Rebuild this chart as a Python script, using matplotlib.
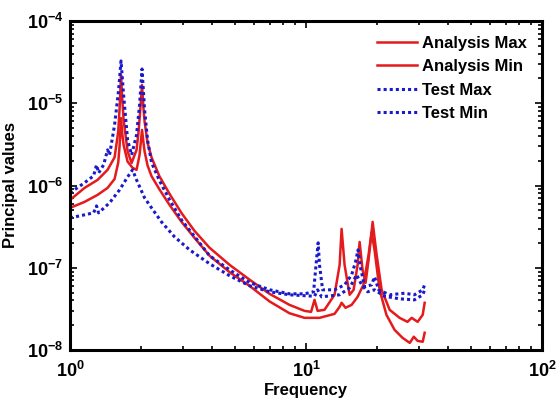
import matplotlib
matplotlib.use("Agg")
import matplotlib.pyplot as plt
from matplotlib.ticker import LogLocator, NullFormatter, FixedLocator, FixedFormatter

plt.rcParams['font.family'] = ['Liberation Sans', 'DejaVu Sans']
plt.rcParams['font.weight'] = 'bold'
plt.rcParams['mathtext.fontset'] = 'custom'
plt.rcParams['mathtext.rm'] = 'Liberation Sans:bold'
plt.rcParams['mathtext.bf'] = 'Liberation Sans:bold'
plt.rcParams['mathtext.default'] = 'bf'

# ---- data ----
freq_amax = [1.0, 1.152, 1.308, 1.442, 1.544, 1.60, 1.621, 1.644, 1.665, 1.686, 1.753, 1.823,
             1.913, 1.950, 1.985, 2.018, 2.045, 2.069, 2.13, 2.214, 2.39, 2.64, 2.97, 3.37, 3.90,
             4.75, 5.77, 7.0, 8.5, 9.85, 10.5, 10.86, 11.19, 11.97, 13.2, 13.87, 14.14, 14.56,
             15.29, 15.9, 16.53, 16.86, 17.35, 17.87, 18.4, 19.14, 19.9, 20.9, 22.6, 24.9, 26.9,
             28.0, 29.7, 31.2, 31.8]
val_amax = [6.68e-7, 9.35e-7, 1.17e-6, 1.55e-6, 2.2e-6, 4.5e-6, 8.5e-6, 2.2e-5, 1.1e-5, 6.3e-6,
            2.6e-6, 1.88e-6, 2.71e-6, 4.4e-6, 8.5e-6, 1.67e-5, 9.0e-6, 6.0e-6, 3.3e-6, 2.2e-6,
            1.3e-6, 7.9e-7, 4.6e-7, 2.8e-7, 1.75e-7, 1.08e-7, 7.14e-8, 4.82e-8, 3.54e-8, 2.99e-8,
            2.91e-8, 4.07e-8, 2.99e-8, 3.08e-8, 4.69e-8, 1.08e-7, 2.97e-7, 1.08e-7, 4.69e-8,
            5.39e-8, 1.08e-7, 2.06e-7, 9.43e-8, 6.56e-8, 1.25e-7, 3.61e-7, 1.44e-7, 5.39e-8,
            3.08e-8, 2.46e-8, 2.2e-8, 2.46e-8, 2.2e-8, 2.68e-8, 3.75e-8]

freq_amin = [1.0, 1.152, 1.308, 1.442, 1.544, 1.60, 1.621, 1.644, 1.665, 1.686, 1.753, 1.840,
             1.913, 1.970, 2.018, 2.045, 2.069, 2.13, 2.214, 2.39, 2.64, 2.97, 3.37, 3.90, 4.75,
             5.77, 7.0, 8.5, 9.85, 11.4, 13.2, 13.87, 14.14, 14.7, 15.6, 16.53, 17.5, 18.4,
             18.95, 19.5, 20.48, 21.9, 23.7, 25.6, 27.5, 28.6, 29.7, 31.2, 31.8]
val_amin = [5.35e-7, 6.32e-7, 7.69e-7, 9.35e-7, 1.2e-6, 1.9e-6, 3.0e-6, 6.6e-6, 4.2e-6, 3.11e-6,
            1.95e-6, 1.64e-6, 1.55e-6, 2.35e-6, 4.74e-6, 3.4e-6, 2.6e-6, 1.75e-6, 1.3e-6,
            9.0e-7, 5.8e-7, 3.6e-7, 2.3e-7, 1.4e-7, 8.8e-8, 6.0e-8, 3.9e-8, 2.8e-8, 2.46e-8,
            2.46e-8, 2.75e-8, 3.35e-8, 3.75e-8, 3.26e-8, 3.54e-8, 4.43e-8, 6.2e-8, 1.44e-7,
            2.7e-7, 1.65e-7, 5.39e-8, 2.68e-8, 1.76e-8, 1.41e-8, 1.22e-8, 1.45e-8, 1.29e-8,
            1.26e-8, 1.62e-8]

freq_tmax = [1.0, 1.152, 1.258, 1.295, 1.321, 1.387, 1.442, 1.47, 1.544, 1.606, 1.644, 1.686,
             1.753, 1.823, 1.913, 1.970, 2.018, 2.069, 2.13, 2.214, 2.39, 2.64, 2.97, 3.37, 3.90,
             4.75, 5.77, 7.0, 8.5, 9.85, 10.76, 11.07, 11.25, 11.4, 11.75, 13.2, 14.56, 15.6,
             16.2, 16.6, 17.02, 17.7, 18.95, 19.5, 20.3, 22.6, 26.1, 28.8, 31.2, 31.8]
val_tmax = [8.13e-7, 1.08e-6, 1.31e-6, 1.78e-6, 1.42e-6, 1.78e-6, 2.71e-6, 2.35e-6, 5.45e-6,
            1.45e-5, 3.27e-5, 1.26e-5, 3.58e-6, 2.35e-6, 4.12e-6, 9.5e-6, 2.61e-5, 8.3e-6,
            3.58e-6, 1.9e-6, 1.15e-6, 6.7e-7, 3.8e-7, 2.4e-7, 1.4e-7, 9.4e-8, 6.6e-8, 5.4e-8,
            4.82e-8, 4.82e-8, 5.1e-8, 1.25e-7, 2.01e-7, 1.08e-7, 5.39e-8, 5.39e-8, 6.2e-8,
            8.2e-8, 1.18e-7, 1.65e-7, 9.97e-8, 5.86e-8, 6.2e-8, 7.76e-8, 5.39e-8, 4.69e-8,
            4.9e-8, 4.69e-8, 5.39e-8, 6.2e-8]

freq_tmin = [1.0, 1.152, 1.258, 1.295, 1.321, 1.47, 1.621, 1.753, 1.840, 1.913, 2.069, 2.214,
             2.44, 2.77, 3.21, 3.90, 4.75, 5.77, 7.0, 8.5, 10.86, 11.19, 11.63, 13.87, 15.29,
             16.37, 17.2, 18.23, 19.5, 21.5, 24.9, 28.8, 31.2, 31.8]
val_tmin = [4.04e-7, 4.40e-7, 4.65e-7, 5.65e-7, 4.65e-7, 6.15e-7, 8.85e-7, 1.27e-6, 1.55e-6,
            1.17e-6, 7.07e-7, 5.35e-7, 3.61e-7, 2.38e-7, 1.65e-7, 1.12e-7, 7.97e-8, 6.03e-8,
            5.1e-8, 4.69e-8, 4.5e-8, 5.39e-8, 4.43e-8, 4.69e-8, 5.7e-8, 8.2e-8, 6.2e-8, 5.1e-8,
            5.39e-8, 4.5e-8, 4.19e-8, 4.07e-8, 4.69e-8, 5.39e-8]

labels = ['Analysis Max', 'Analysis Min', 'Test Max', 'Test Min']
xlabel = 'Frequency'
ylabel = 'Principal values'

red = '#e41a1c'
blue = '#1a1acc'

fig = plt.figure(figsize=(5.56, 4.0), dpi=100)
ax = fig.add_axes([0.126, 0.125, 0.849, 0.8225])

ax.plot(freq_amax, val_amax, color=red, lw=1.8, label=labels[0])
ax.plot(freq_amin, val_amin, color=red, lw=1.8, label=labels[1])
ax.plot(freq_tmax, val_tmax, color=blue, lw=2.2, ls=(0, (1, 1)), label=labels[2])
ax.plot(freq_tmin, val_tmin, color=blue, lw=2.2, ls=(0, (1, 1)), label=labels[3])

ax.set_xscale('log')
ax.set_yscale('log')
ax.set_xlim(1, 100)
ax.set_ylim(1e-8, 1e-4)

ax.xaxis.set_major_locator(FixedLocator([1, 10, 100]))
ax.xaxis.set_major_formatter(FixedFormatter([r'$10^{0}$', r'$10^{1}$', r'$10^{2}$']))
ax.yaxis.set_major_locator(FixedLocator([1e-8, 1e-7, 1e-6, 1e-5, 1e-4]))
ax.yaxis.set_major_formatter(FixedFormatter([r'$10^{-8}$', r'$10^{-7}$', r'$10^{-6}$',
                                             r'$10^{-5}$', r'$10^{-4}$']))
ax.xaxis.set_minor_locator(LogLocator(base=10, subs=range(2, 10)))
ax.yaxis.set_minor_locator(LogLocator(base=10, subs=range(2, 10)))
ax.xaxis.set_minor_formatter(NullFormatter())
ax.yaxis.set_minor_formatter(NullFormatter())

ax.tick_params(which='both', direction='in', top=True, right=True, labelsize=13, width=1.2)
ax.tick_params(which='major', length=5)
ax.tick_params(which='minor', length=3)
ax.tick_params(axis='x', pad=8)
ax.tick_params(axis='y', pad=5)
for s in ax.spines.values():
    s.set_linewidth(2.2)

ax.set_xlabel(xlabel, fontsize=12, fontweight='bold', labelpad=1)
ax.set_ylabel(ylabel, fontsize=12, fontweight='bold', labelpad=6)

leg = ax.legend(loc='upper right', frameon=False, fontsize=12, handlelength=2.4,
                handletextpad=0.3, labelspacing=0.5, borderaxespad=0.5)

fig.savefig('out.png', dpi=100)
